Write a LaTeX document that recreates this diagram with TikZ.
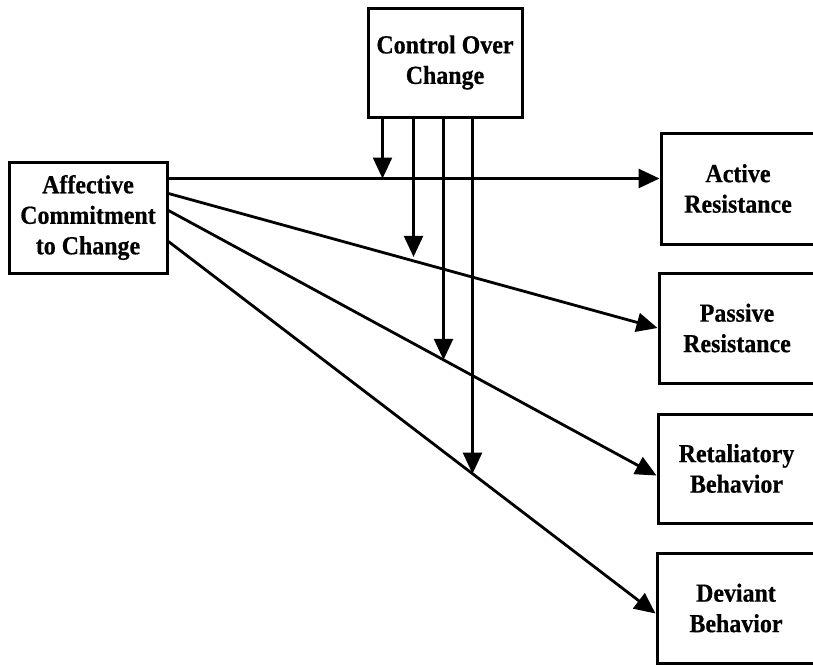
\documentclass[tikz,border=0pt]{standalone}
\usepackage{fontspec}
\setmainfont[FakeStretch=0.92,FakeBold=0.6]{Liberation Serif}
\usetikzlibrary{arrows.meta,calc,intersections}
\begin{document}
\begin{tikzpicture}[x=1pt,y=-1pt,
  box/.style={draw,line width=3pt,rectangle,align=center,inner sep=0pt,
    font=\fontsize{26}{30.5}\selectfont\bfseries},
  conn/.style={line width=2.8pt,-{Triangle[length=21pt,width=19pt]}},
  vconn/.style={line width=2.4pt,-{Triangle[length=21pt,width=19pt]}}]
\useasboundingbox (0,0) rectangle (813,665);
\node[box,minimum width=154pt,minimum height=109pt] (ctrl) at (445,62.5) {Control Over\\Change};
\node[box,minimum width=158pt,minimum height=111pt] (aff) at (88,217.5) {Affective\\Commitment\\to Change};
\node[box,minimum width=154pt,minimum height=111pt] (act) at (738,188.5) {Active\\Resistance};
\node[box,minimum width=156pt,minimum height=110pt] (pas) at (737,328) {Passive\\Resistance};
\node[box,minimum width=157pt,minimum height=109pt] (ret) at (736.5,468.5) {Retaliatory\\Behavior};
\node[box,minimum width=158pt,minimum height=110pt] (dev) at (736,608) {Deviant\\Behavior};
% source and target points
\coordinate (s1) at ($(aff.north east)+(0,18)$);
\coordinate (s2) at ($(aff.north east)+(0,33)$);
\coordinate (s3) at ($(aff.north east)+(0,50)$);
\coordinate (s4) at ($(aff.north east)+(0,81)$);
\coordinate (t1) at ($(act.north west)+(0,47)$);
\coordinate (t2) at (pas.west);
\coordinate (t3) at ($(ret.north west)+(0,63)$);
\coordinate (t4) at ($(dev.north west)+(0,62)$);
\draw[conn,name path=l1] (s1) -- (t1);
\draw[conn,name path=l2] (s2) -- (t2);
\draw[conn,name path=l3] (s3) -- (t3);
\draw[conn,name path=l4] (s4) -- (t4);
% moderating arrows
\coordinate (c1) at ($(ctrl.south west)+(16,0)$);
\coordinate (c2) at ($(ctrl.south west)+(47,0)$);
\coordinate (c3) at ($(ctrl.south west)+(77,0)$);
\coordinate (c4) at ($(ctrl.south west)+(106,0)$);
\path[name path=v1] (c1) -- ++(0,600);
\path[name path=v2] (c2) -- ++(0,600);
\path[name path=v3] (c3) -- ++(0,600);
\path[name path=v4] (c4) -- ++(0,600);
\path[name intersections={of=v1 and l1,by=m1}];
\path[name intersections={of=v2 and l2,by=m2}];
\path[name intersections={of=v3 and l3,by=m3}];
\path[name intersections={of=v4 and l4,by=m4}];
\draw[vconn] (c1) -- (m1);
\draw[vconn] (c2) -- ($(m2)+(0,-4)$);
\draw[vconn] (c3) -- (m3);
\draw[vconn] (c4) -- (m4);
\end{tikzpicture}
\end{document}
